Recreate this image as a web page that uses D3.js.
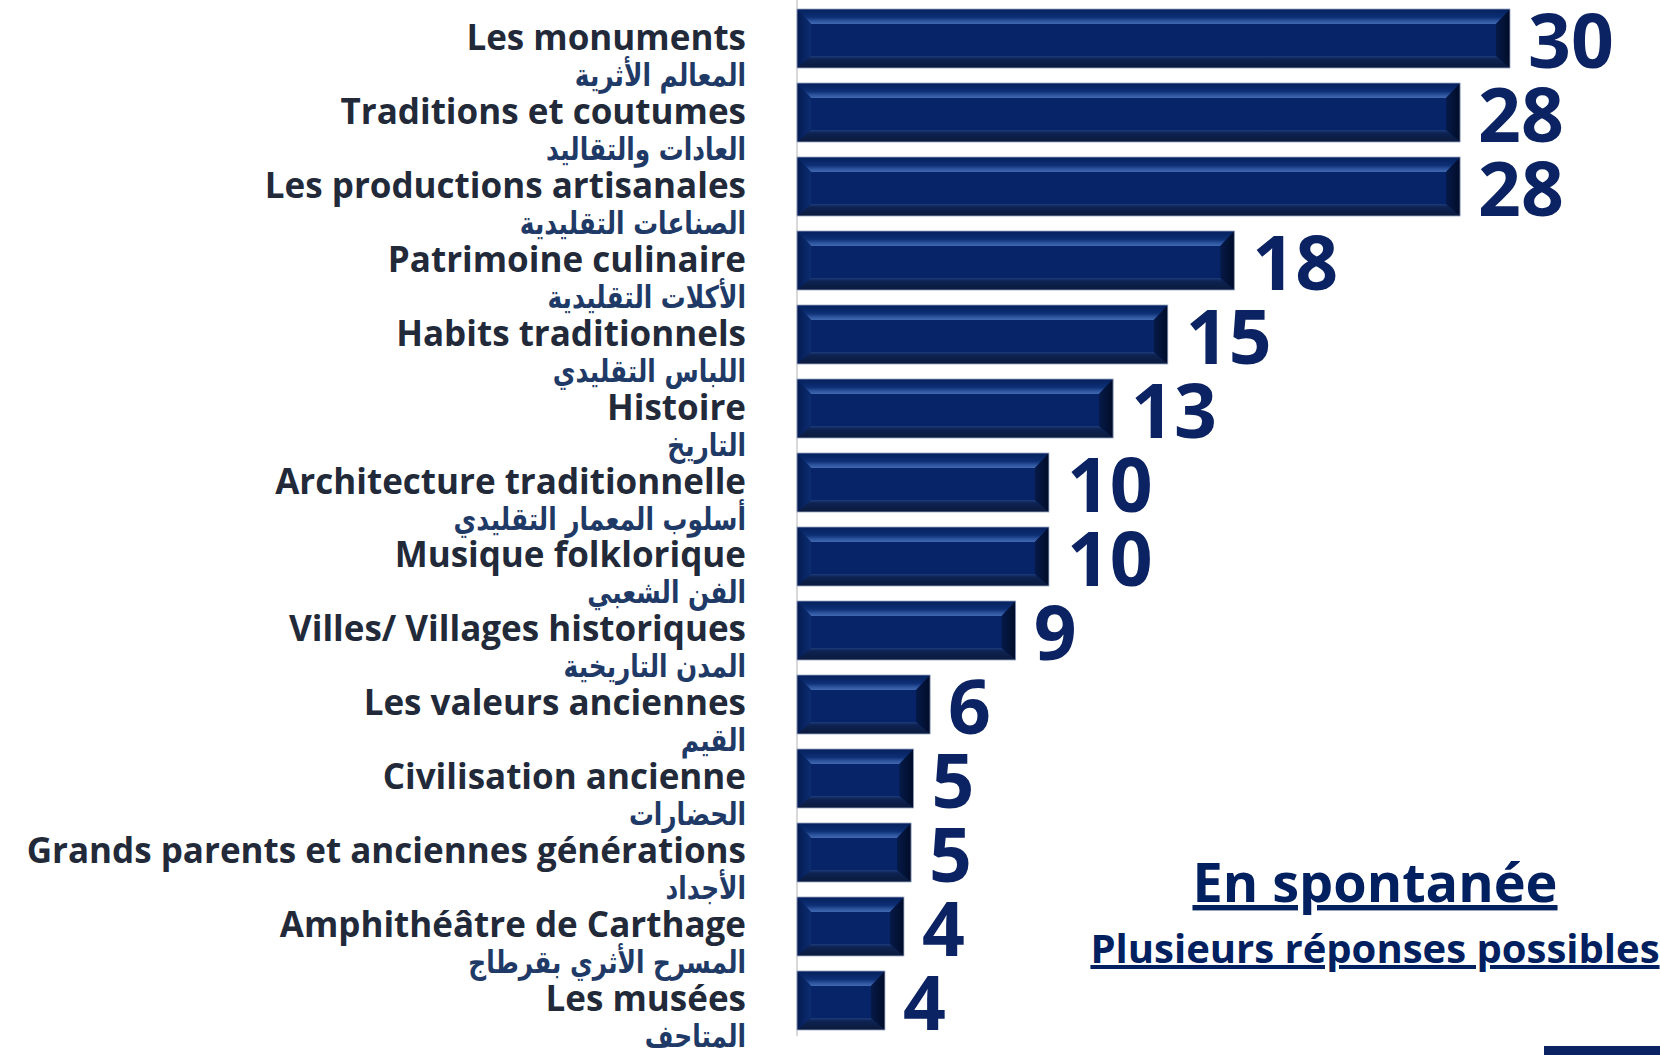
<!DOCTYPE html>
<html>
<head>
<meta charset="utf-8">
<script src="https://cdn.jsdelivr.net/npm/d3@7"></script>
<style>
  html, body { margin: 0; padding: 0; background: #fff; }
  svg { display: block; }
</style>
</head>
<body>
<svg id="chart" width="1660" height="1055"></svg>
<script>
// categories (french / arabic), bar lengths, printed labels
var labelsFr = [
  "Les monuments", "Traditions et coutumes", "Les productions artisanales",
  "Patrimoine culinaire", "Habits traditionnels", "Histoire",
  "Architecture traditionnelle", "Musique folklorique", "Villes/ Villages historiques",
  "Les valeurs anciennes", "Civilisation ancienne", "Grands parents et anciennes générations",
  "Amphithéâtre de Carthage", "Les musées"
];
var labelsAr = [
  "المعالم الأثرية", "العادات والتقاليد", "الصناعات التقليدية",
  "الأكلات التقليدية", "اللباس التقليدي", "التاريخ",
  "أسلوب المعمار التقليدي", "الفن الشعبي", "المدن التاريخية",
  "القيم", "الحضارات", "الأجداد",
  "المسرح الأثري بقرطاج", "المتاحف"
];
var values = [30, 27.9, 27.9, 18.4, 15.6, 13.3, 10.6, 10.6, 9.2, 5.6, 4.9, 4.8, 4.5, 3.7];
var valueLabels = ["30", "28", "28", "18", "15", "13", "10", "10", "9", "6", "5", "5", "4", "4"];

var title = "En spontanée",
    subtitle = "Plusieurs réponses possibles";

var svg = d3.select("#chart"),
    width = 1660,
    height = 1055;

var navy = "#0b2263";

var x = d3.scaleLinear()
    .domain([0, 30])
    .range([797, 1510]);

var y = d3.scaleBand()
    .domain(d3.range(values.length))
    .range([1.5, 1.5 + 74 * values.length])
    .paddingInner(0.2027)
    .paddingOuter(0.1014);

// gradients for the bevelled bars
var defs = svg.append("defs");
function grad(id, x2, y2, stops) {
  var g = defs.append("linearGradient").attr("id", id)
      .attr("x1", 0).attr("y1", 0).attr("x2", x2).attr("y2", y2);
  stops.forEach(function(s) {
    g.append("stop").attr("offset", s[0]).attr("stop-color", s[1]);
  });
}
grad("gTop", 0, 1, [["0%", "#05205c"], ["55%", "#0d2f74"], ["80%", "#2d549e"], ["100%", "#4169b0"]]);
grad("gBot", 0, 1, [["0%", "#1c3c7a"], ["25%", "#0e2352"], ["100%", "#0a1a3c"]]);
grad("gLeft", 1, 0, [["0%", "#041b52"], ["100%", "#0c2d70"]]);
grad("gRight", 1, 0, [["0%", "#061a48"], ["100%", "#010c28"]]);

// axis line
svg.append("line")
    .attr("x1", 797).attr("x2", 797)
    .attr("y1", 0).attr("y2", 1036)
    .attr("stroke", "#d9d9d9")
    .attr("stroke-width", 2);

var bh = y.bandwidth(),
    bev = 14, bt = 15, bb = 12;

var rows = svg.selectAll("g.row")
    .data(values)
    .enter().append("g")
    .attr("class", "row")
    .attr("transform", function(d, i) { return "translate(" + x(0) + "," + y(i) + ")"; });

rows.append("rect")
    .attr("width", function(d) { return x(d) - x(0); })
    .attr("height", bh)
    .attr("fill", "#062467");

rows.append("path")
    .attr("fill", "url(#gTop)")
    .attr("d", function(d) {
      var w = x(d) - x(0);
      return "M0,0L" + w + ",0L" + (w - bev) + "," + bt + "L" + bev + "," + bt + "Z";
    });

rows.append("path")
    .attr("fill", "url(#gBot)")
    .attr("d", function(d) {
      var w = x(d) - x(0);
      return "M" + bev + "," + (bh - bb) + "L" + (w - bev) + "," + (bh - bb) + "L" + w + "," + bh + "L0," + bh + "Z";
    });

rows.append("path")
    .attr("fill", "url(#gLeft)")
    .attr("d", "M0,0L" + bev + "," + bt + "L" + bev + "," + (bh - bb) + "L0," + bh + "Z");

rows.append("path")
    .attr("fill", "url(#gRight)")
    .attr("d", function(d) {
      var w = x(d) - x(0);
      return "M" + w + ",0L" + w + "," + bh + "L" + (w - bev) + "," + (bh - bb) + "L" + (w - bev) + "," + bt + "Z";
    });

rows.append("rect")
    .attr("width", function(d) { return x(d) - x(0); })
    .attr("height", bh)
    .attr("fill", "none")
    .attr("stroke", "#9aa8c4")
    .attr("stroke-width", 0.8);

// value labels
rows.append("text")
    .attr("x", function(d) { return x(d) - x(0) + 18; })
    .attr("y", bh)
    .attr("font-family", "'Open Sans', sans-serif")
    .attr("font-weight", 700)
    .attr("font-size", 75)
    .attr("fill", navy)
    .text(function(d, i) { return valueLabels[i]; });

// category labels
svg.selectAll("text.fr")
    .data(labelsFr)
    .enter().append("text")
    .attr("class", "fr")
    .attr("x", 746)
    .attr("y", function(d, i) { return y(i) + bh / 2 + 11; })
    .attr("text-anchor", "end")
    .attr("font-family", "'Open Sans', sans-serif")
    .attr("font-weight", 700)
    .attr("font-size", 35)
    .attr("fill", "#222a3a")
    .text(function(d) { return d; });

// arabic glyphs drawn taller and a bit narrower, like the reference
svg.selectAll("text.ar")
    .data(labelsAr)
    .enter().append("text")
    .attr("class", "ar")
    .attr("transform", function(d, i) { return "translate(746," + (y(i) + bh / 2 + 47) + ") scale(0.8,1)"; })
    .attr("text-anchor", "start")
    .attr("direction", "rtl")
    .attr("font-family", "'DejaVu Sans', sans-serif")
    .attr("font-weight", 700)
    .attr("font-size", 31)
    .attr("fill", "#1f3a66")
    .text(function(d) { return d; });

// note in the empty corner
svg.append("text")
    .attr("x", 1375).attr("y", 902)
    .attr("text-anchor", "middle")
    .attr("font-family", "'Open Sans', sans-serif")
    .attr("font-weight", 700)
    .attr("font-size", 54)
    .attr("fill", "#002060")
    .attr("text-decoration", "underline")
    .text(title);

svg.append("text")
    .attr("x", 1375).attr("y", 963)
    .attr("text-anchor", "middle")
    .attr("font-family", "'Open Sans', sans-serif")
    .attr("font-weight", 700)
    .attr("font-size", 40)
    .attr("fill", "#002060")
    .attr("text-decoration", "underline")
    .text(subtitle);

svg.append("rect")
    .attr("x", 1544).attr("y", 1046)
    .attr("width", 116).attr("height", 9)
    .attr("fill", "#0b2263");
</script>
</body>
</html>
